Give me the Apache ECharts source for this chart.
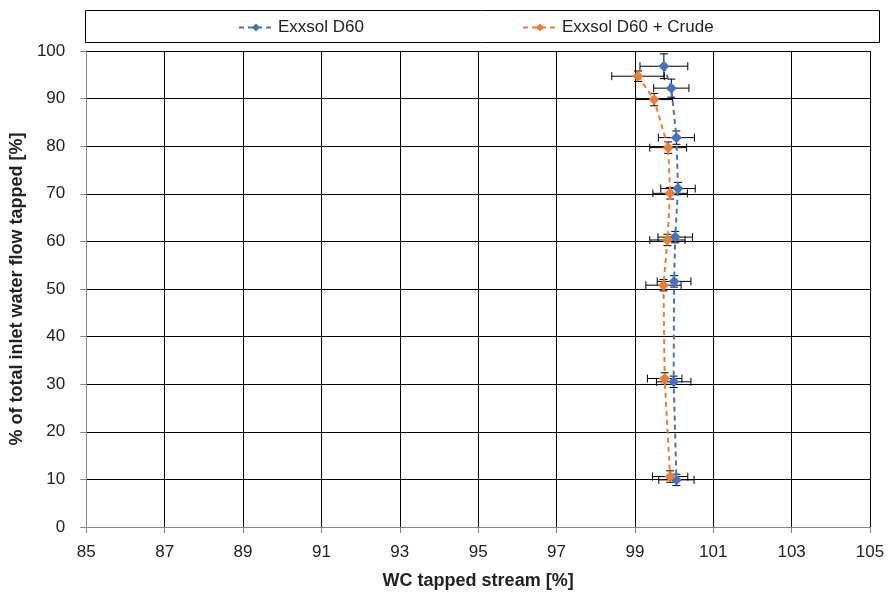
<!DOCTYPE html>
<html><head><meta charset="utf-8">
<script src="https://cdn.jsdelivr.net/npm/echarts@6/dist/echarts.min.js"></script>
<style>html,body{margin:0;padding:0;background:#fff}#c{width:888px;height:595px}</style>
</head><body><div id="c"></div>
<script>
// X axis origin (tick labels 85..105 step 2)
const X0 = 85;
const xTicksMax = 105;
const seriesNames = ['Exxsol D60', 'Exxsol D60 + Crude'];
// Exxsol D60
const blueX    = [99.74, 99.93, 100.06, 100.10, 100.03, 100.00, 99.99, 100.06];
const blueY    = [96.8, 92.2, 81.8, 71.1, 60.9, 51.6, 30.5, 9.9];
const blueXErr = [0.61, 0.45, 0.46, 0.44, 0.44, 0.43, 0.44, 0.45];
const blueYErr = [2.6, 1.9, 1.4, 1.3, 1.2, 1.2, 1.2, 1.2];
// Exxsol D60 + Crude
const orX    = [99.08, 99.49, 99.85, 99.90, 99.83, 99.73, 99.76, 99.90];
const orY    = [94.7, 89.8, 79.7, 70.1, 60.3, 50.8, 31.2, 10.6];
const orXErr = [0.67, 0.47, 0.47, 0.44, 0.45, 0.45, 0.44, 0.45];
const orYErr = [1.1, 1.3, 1.2, 1.2, 1.2, 1.2, 1.2, 1.2];

const FONT = 'Liberation Sans';
const pts = (xs, ys) => xs.map((x, i) => [x - X0, ys[i]]);
const errs = (xs, ys, ex, ey) => xs.map((x, i) => [x - X0, ys[i], ex[i], ey[i]]);

function errRender(params, api) {
  const x = api.value(0), y = api.value(1), ex = api.value(2), ey = api.value(3);
  const L = api.coord([x - ex, y]), R = api.coord([x + ex, y]);
  const T = api.coord([x, y + ey]), B = api.coord([x, y - ey]);
  const c = 4;
  const st = {stroke: '#000', lineWidth: 1};
  const ln = (a, b, cc, d) => ({type: 'line', shape: {x1: a, y1: b, x2: cc, y2: d}, style: st});
  return {type: 'group', children: [
    ln(L[0], L[1], R[0], R[1]),
    ln(L[0], L[1] - c, L[0], L[1] + c),
    ln(R[0], R[1] - c, R[0], R[1] + c),
    ln(T[0], T[1], B[0], B[1]),
    ln(T[0] - c, T[1], T[0] + c, T[1]),
    ln(B[0] - c, B[1], B[0] + c, B[1])
  ]};
}

const chart = echarts.init(document.getElementById('c'));
chart.setOption({
  animation: false,
  textStyle: {fontFamily: FONT},
  graphic: [{type: 'rect', left: 83, top: 8, shape: {width: 794, height: 32}, style: {fill: 'none', stroke: '#000', lineWidth: 1}, z: 0}],
  legend: {
    top: 14, left: 233, itemGap: 158, itemWidth: 34, itemHeight: 10,
    textStyle: {fontSize: 17, color: '#222', fontFamily: FONT},
    data: seriesNames
  },
  grid: {left: 86, right: 18, top: 51, bottom: 67},
  xAxis: {
    type: 'value', min: 0, max: xTicksMax - X0, interval: 2,
    name: 'WC tapped stream [%]', nameLocation: 'middle', nameGap: 45,
    nameTextStyle: {fontSize: 18, fontWeight: 'bold', color: '#222'},
    axisLabel: {formatter: v => String(v + X0), fontSize: 17, color: '#222', margin: 17},
    axisLine: {show: true, lineStyle: {color: '#868686'}},
    axisTick: {show: true, length: 6, lineStyle: {color: '#868686'}},
    splitLine: {show: true, lineStyle: {color: '#000', width: 1}}
  },
  yAxis: {
    type: 'value', min: 0, max: 100, interval: 10,
    name: '% of total inlet water flow tapped [%]', nameLocation: 'middle', nameGap: 59,
    nameTextStyle: {fontSize: 18, fontWeight: 'bold', color: '#222'},
    axisLabel: {fontSize: 17, color: '#222', margin: 21},
    axisLine: {show: true, lineStyle: {color: '#868686'}},
    axisTick: {show: true, length: 6, lineStyle: {color: '#868686'}},
    splitLine: {show: true, lineStyle: {color: '#000', width: 1}}
  },
  series: [
    {type: 'custom', renderItem: errRender, data: errs(blueX, blueY, blueXErr, blueYErr), z: 3, silent: true},
    {type: 'custom', renderItem: errRender, data: errs(orX, orY, orXErr, orYErr), z: 3, silent: true},
    {name: seriesNames[0], type: 'line', data: pts(blueX, blueY), symbol: 'diamond', symbolSize: 11,
     itemStyle: {color: '#4472C4'}, lineStyle: {color: '#4472C4', width: 2, type: [5, 4]}, z: 4},
    {name: seriesNames[1], type: 'line', data: pts(orX, orY), symbol: 'diamond', symbolSize: 11,
     itemStyle: {color: '#ED7D31'}, lineStyle: {color: '#ED7D31', width: 2, type: [5, 4]}, z: 4}
  ]
});
</script></body></html>
